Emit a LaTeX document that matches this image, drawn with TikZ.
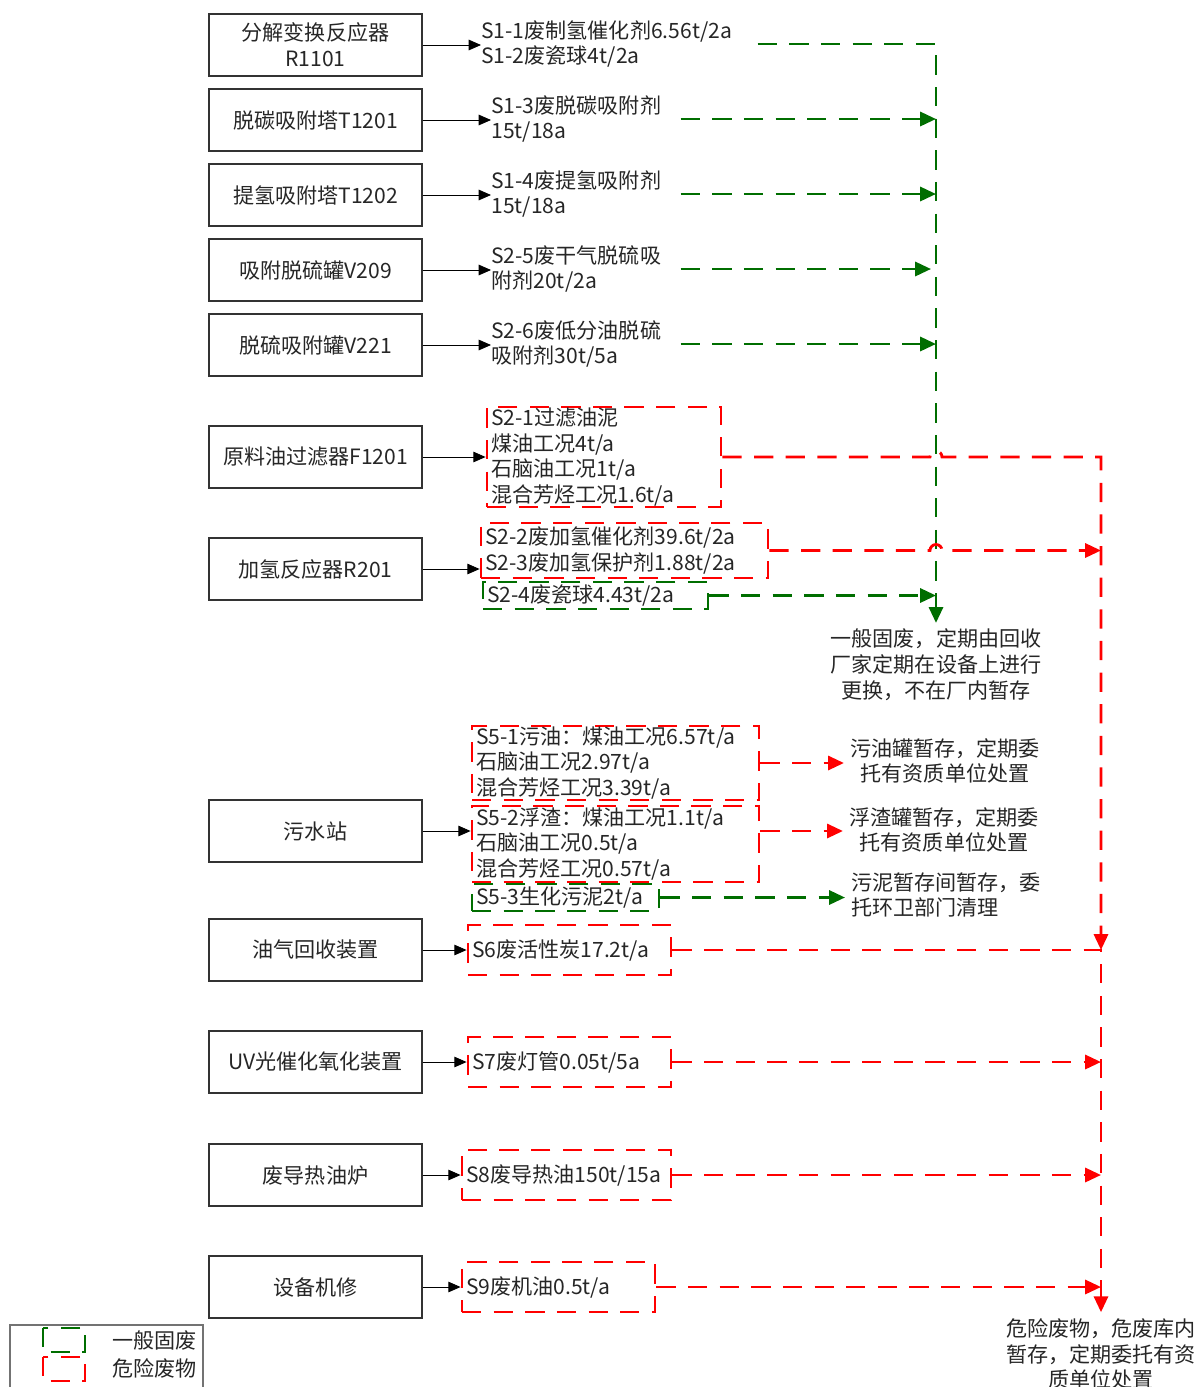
\documentclass[tikz,border=0pt]{standalone}
\usepackage{fontspec}
\setmainfont{Noto Sans CJK SC}
\usetikzlibrary{arrows.meta}
\definecolor{gfgreen}{RGB}{0,110,0}
\definecolor{hwred}{RGB}{255,0,0}

\begin{document}
\begin{tikzpicture}[x=0.02cm,y=-0.02cm]
	\tikzset{every node/.style={font=\fontsize{12}{14.7}\selectfont, text=black!85}}
	\tikzset{unit/.style = {shape=rectangle,draw=black!80,line width=0.6pt,
			minimum width=4.26cm,minimum height=1.24cm,align=center}}
	\tikzset{feed/.style = {-{Triangle[length=7pt,width=6pt]},line width=0.5pt}}
	\tikzset{gtext/.style = {anchor=west,inner xsep=0pt,align=left}}
	\tikzset{gline/.style = {draw=gfgreen,line width=1.6pt,dash pattern=on 11pt off 7pt}}
	\tikzset{rline/.style = {draw=hwred,line width=1.6pt,dash pattern=on 11pt off 7pt}}
	\tikzset{gflow/.style = {gline,-{Triangle[length=9pt,width=8pt]}}}
	\tikzset{rflow/.style = {rline,-{Triangle[length=9pt,width=8pt]}}}
	\tikzset{gbox/.style = {gline,inner xsep=0.08cm,inner ysep=0pt,align=left}}
	\tikzset{rbox/.style = {rline,inner xsep=0.08cm,inner ysep=0pt,align=left}}
	\useasboundingbox (0,0) rectangle (1204,1387);
    % equipment
    \node[unit] (r1101)  at (315.5,45)   {分解变换反应器\\R1101};
    \node[unit] (t1201)  at (315.5,120)  {脱碳吸附塔T1201};
    \node[unit] (t1202)  at (315.5,195)  {提氢吸附塔T1202};
    \node[unit] (v209)   at (315.5,270)  {吸附脱硫罐V209};
    \node[unit] (v221)   at (315.5,345)  {脱硫吸附罐V221};
    \node[unit] (f1201)  at (315.5,457)  {原料油过滤器F1201};
    \node[unit] (r201)   at (315.5,569)  {加氢反应器R201};
    \node[unit] (sewage) at (315.5,831)  {污水站};
    \node[unit] (vru)    at (315.5,950)  {油气回收装置};
    \node[unit] (uvox)   at (315.5,1062) {UV光催化氧化装置};
    \node[unit] (hoil)   at (315.5,1175) {废导热油炉};
    \node[unit] (repair) at (315.5,1287) {设备机修};
    % general solid waste
    \node[gtext,text width=5.52cm] (s11) at (481,44)  {S1-1废制氢催化剂6.56t/2a\\S1-2废瓷球4t/2a};
    \node[gtext,text width=3.78cm] (s13) at (491,119) {S1-3废脱碳吸附剂\\15t/18a};
    \node[gtext,text width=3.78cm] (s14) at (491,194) {S1-4废提氢吸附剂\\15t/18a};
    \node[gtext,text width=3.78cm] (s25) at (491,269) {S2-5废干气脱硫吸\\附剂20t/2a};
    \node[gtext,text width=3.78cm] (s26) at (491,344) {S2-6废低分油脱硫\\吸附剂30t/5a};
    \node[gbox,text width=4.34cm,minimum height=0.54cm] (s24) at (595.5,595.5) {S2-4废瓷球4.43t/2a};
    \node[gbox,text width=3.58cm,minimum height=0.54cm] (s53) at (565.5,897.5) {S5-3生化污泥2t/a};
    % hazardous waste
    \node[rbox,text width=4.52cm,minimum height=2cm] (s21) at (604,457)
        {S2-1过滤油泥\\煤油工况4t/a\\石脑油工况1t/a\\混合芳烃工况1.6t/a};
    \node[rbox,text width=5.58cm,minimum height=1.1cm] (s22) at (624.5,550.5)
        {S2-2废加氢催化剂39.6t/2a\\S2-3废加氢保护剂1.88t/2a};
    \node[rbox,text width=5.58cm,minimum height=1.48cm] (s51) at (615.5,763)
        {S5-1污油：煤油工况6.57t/a\\石脑油工况2.97t/a\\混合芳烃工况3.39t/a};
    \node[rbox,text width=5.58cm,minimum height=1.52cm] (s52) at (615.5,844)
        {S5-2浮渣：煤油工况1.1t/a\\石脑油工况0.5t/a\\混合芳烃工况0.57t/a};
    \node[rbox,text width=3.9cm,minimum height=1cm]  (s6) at (569.5,950)  {S6废活性炭17.2t/a};
    \node[rbox,text width=3.9cm,minimum height=1cm]  (s7) at (569.5,1062) {S7废灯管0.05t/5a};
    \node[rbox,text width=4.02cm,minimum height=1cm] (s8) at (566.5,1175) {S8废导热油150t/15a};
    \node[rbox,text width=3.7cm,minimum height=1cm]  (s9) at (558.5,1287) {S9废机油0.5t/a};
    % disposal
    \node[align=center] (gsink) at (936,665) {一般固废，定期由回收\\厂家定期在设备上进行\\更换，不在厂内暂存};
    \node[align=center] (hsink) at (1101,1354) {危险废物，危废库内\\暂存，定期委托有资\\质单位处置};
    \node[align=center] (oiltank) at (945,761) {污油罐暂存，定期委\\托有资质单位处置};
    \node[align=center] (scumtank) at (944,830) {浮渣罐暂存，定期委\\托有资质单位处置};
    \node[align=left,anchor=west] (sludge) at (845,895) {污泥暂存间暂存，委\\托环卫部门清理};
    % equipment to waste
    \draw[feed] (r1101.east) -- (r1101.east -| s11.west);
    \draw[feed] (t1201.east) -- (t1201.east -| s13.west);
    \draw[feed] (t1202.east) -- (t1202.east -| s14.west);
    \draw[feed] (v209.east) -- (v209.east -| s25.west);
    \draw[feed] (v221.east) -- (v221.east -| s26.west);
    \draw[feed] (f1201.east) -- (s21.west);
    \draw[feed] (r201.east) -- (r201.east -| s22.west);
    \draw[feed] (sewage.east) -- (sewage.east -| s52.west);
    \draw[feed] (vru.east) -- (s6.west);
    \draw[feed] (uvox.east) -- (s7.west);
    \draw[feed] (hoil.east) -- (s8.west);
    \draw[feed] (repair.east) -- (s9.west);
    % general waste bus
    \draw[gflow] (s11.east) -| (gsink.north);
    \draw[gflow] (s13.east) -- (s13.east -| gsink.north);
    \draw[gflow] (s14.east) -- (s14.east -| gsink.north);
    \draw[gflow] (s25.east) -- ([xshift=-0.1cm]s25.east -| gsink.north);
    \draw[gflow] (s26.east) -- (s26.east -| gsink.north);
    \draw[gflow] (s24.east) -- (s24.east -| gsink.north);
    \draw[gflow] (s53.east) -- (s53.east -| sludge.west);
    % hazardous waste bus
    \draw[rflow] (s21.east) -- ([xshift=-0.12cm]s21.east -| gsink.north)
        arc[start angle=180,end angle=0,radius=0.12cm]
        -- (s21.east -| hsink.north) -- (s6.east -| hsink.north);
    \draw[rflow] (s22.east) -- ([xshift=-0.12cm]s22.east -| gsink.north)
        arc[start angle=180,end angle=0,radius=0.12cm]
        -- (s22.east -| hsink.north);
    \draw[rflow] (s6.east) -| (hsink.north);
    \draw[rflow] (s7.east) -- (s7.east -| hsink.north);
    \draw[rflow] (s8.east) -- (s8.east -| hsink.north);
    \draw[rflow] (s9.east) -- (s9.east -| hsink.north);
    \draw[rflow] (s51.east) -- (s51.east -| oiltank.west);
    \draw[rflow] (s52.east |- sewage.east) -- (scumtank.west |- sewage.east);
    % legend
    \draw[draw=black!55,line width=0.6pt] (10,1325) rectangle (203,1392);
    \draw[gline] (43,1328) rectangle (85,1352);
    \draw[rline] (43,1357) rectangle (85,1381);
    \node[anchor=west] (lgen) at (106,1340) {一般固废};
    \node[anchor=west] (lhaz) at (106,1368) {危险废物};
\end{tikzpicture}
\end{document}
